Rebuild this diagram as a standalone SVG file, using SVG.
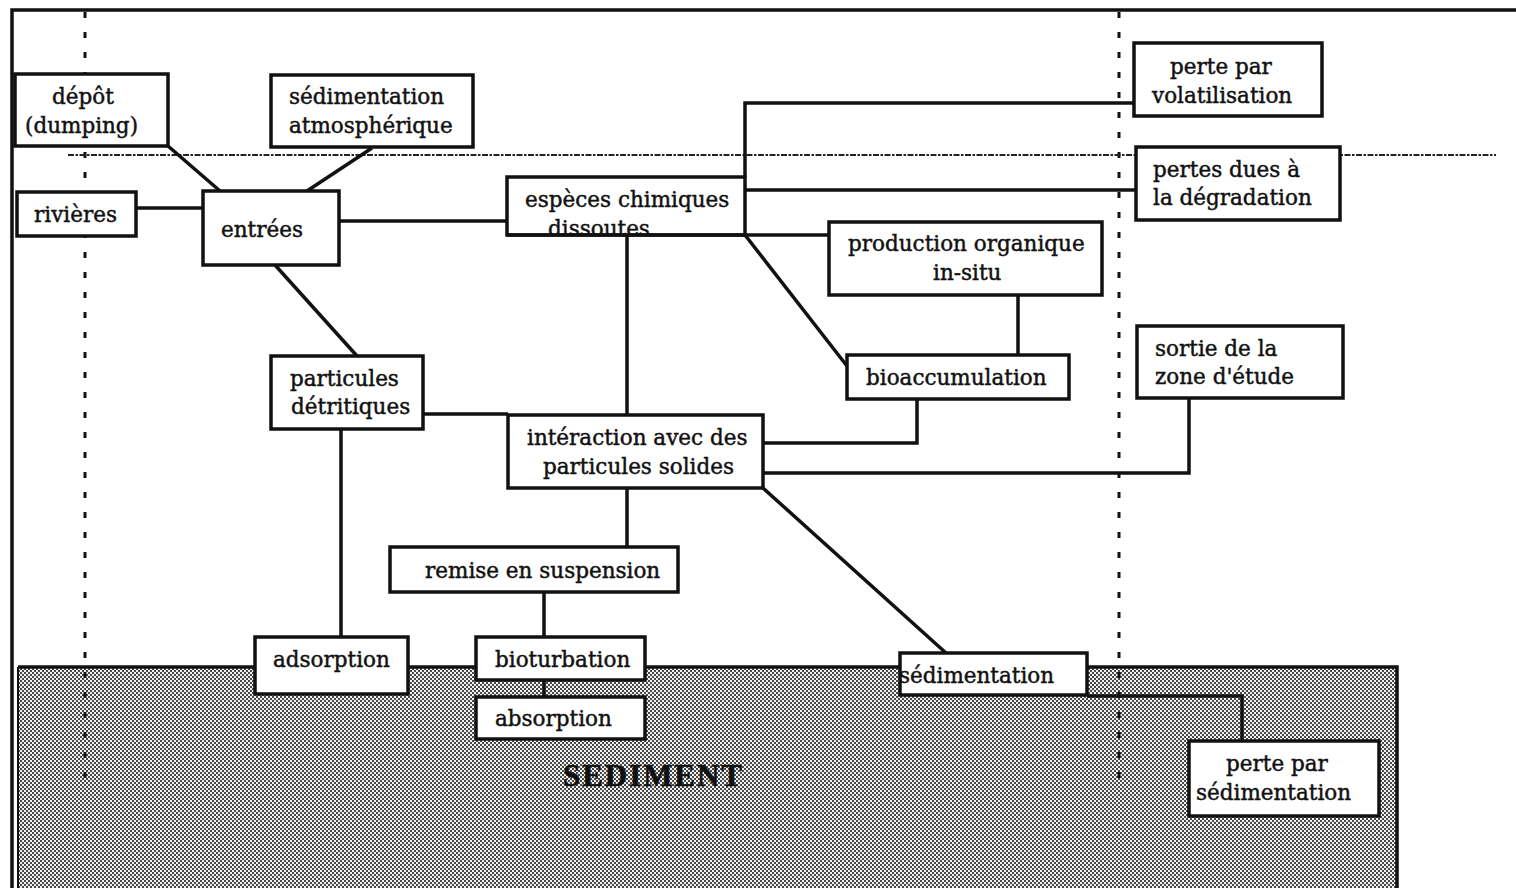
<svg xmlns="http://www.w3.org/2000/svg" width="1516" height="888" viewBox="0 0 1516 888">
<defs>
<style>
.box{fill:#fff;stroke:#111;stroke-width:3.5}
.t{font-family:"DejaVu Serif","Liberation Serif",serif;font-size:21.5px;fill:#111;stroke:#111;stroke-width:0.45}
.conn{fill:none;stroke:#111;stroke-width:3.5}
.dots{fill:none;stroke:#111;stroke-width:3;stroke-dasharray:6 14}
.surface{fill:none;stroke:#222;stroke-width:2;stroke-dasharray:6 1.5 2.5 1.5}
</style>
<pattern id="stipple" width="4" height="4" patternUnits="userSpaceOnUse">
<rect width="4" height="4" fill="#f2f2f2"/>
<rect x="0" y="0" width="2" height="2" fill="#484848"/>
<rect x="2" y="2" width="2" height="2" fill="#484848"/>
</pattern>
<clipPath id="clipEspeces"><rect x="507" y="177" width="238" height="57"/></clipPath>
</defs>
<rect width="1516" height="888" fill="#fff"/>
<g id="sediment-zone">
<rect x="18" y="667" width="1379" height="230" fill="url(#stipple)"/>
<path d="M18,888 V667" fill="none" stroke="#111" stroke-width="2"/>
<path d="M18,667 H1397 V888" fill="none" stroke="#111" stroke-width="3.5"/>
<text x="563" y="786" font-family="'Liberation Serif',serif" font-weight="bold" font-size="31" textLength="179" fill="#111" stroke="#111" stroke-width="0.6">SEDIMENT</text>
</g>
<g id="frame">
<path d="M12,888 V10 H1516" fill="none" stroke="#111" stroke-width="3.5"/>
</g>
<g id="boundaries">
<path class="dots" d="M85,12 V785"/>
<path class="dots" d="M1119,12 V785"/>
<path class="surface" d="M68,155 H1496"/>
</g>
<g id="connectors">
<path class="conn" d="M136,208 H203"/>
<path class="conn" d="M168,146 L220,191"/>
<path class="conn" d="M372,148 L307,191"/>
<path class="conn" d="M339,221 H507"/>
<path class="conn" d="M275,265 L357,356"/>
<path class="conn" d="M745,177 V103 H1134"/>
<path class="conn" d="M745,190 H1136"/>
<path class="conn" d="M745,235 H829"/>
<path class="conn" d="M745,235 L847,366"/>
<path class="conn" d="M627,235 V415"/>
<path class="conn" d="M1018,295 V355"/>
<path class="conn" d="M917,399 V443 H763"/>
<path class="conn" d="M1189,398 V473 H763"/>
<path class="conn" d="M423,414 H508"/>
<path class="conn" d="M341,429 V637"/>
<path class="conn" d="M627,488 V547"/>
<path class="conn" d="M544,592 V637"/>
<path class="conn" d="M544,680 V697"/>
<path class="conn" d="M763,488 L946,653"/>
<path class="conn" d="M1087,696 H1242 V741"/>
</g>
<g id="node-depot">
<rect class="box" x="15" y="74" width="153" height="72"/>
<text class="t" x="52" y="104">dépôt</text>
<text class="t" x="25" y="133">(dumping)</text>
</g>
<g id="node-sedimentation-atmospherique">
<rect class="box" x="271" y="75" width="202" height="72"/>
<text class="t" x="289" y="104">sédimentation</text>
<text class="t" x="289" y="133">atmosphérique</text>
</g>
<g id="node-rivieres">
<rect class="box" x="17" y="192" width="119" height="44"/>
<text class="t" x="34" y="222">rivières</text>
</g>
<g id="node-entrees">
<rect class="box" x="203" y="191" width="136" height="74"/>
<text class="t" x="221" y="237">entrées</text>
</g>
<g id="node-especes">
<rect class="box" x="507" y="177" width="238" height="58"/>
<text class="t" x="525" y="207">espèces chimiques</text>
<text class="t" x="548" y="236" clip-path="url(#clipEspeces)">dissoutes</text>
<path d="M507,235 H745" fill="none" stroke="#111" stroke-width="3.5"/>
</g>
<g id="node-volatilisation">
<rect class="box" x="1134" y="43" width="188" height="73"/>
<text class="t" x="1170" y="74">perte par</text>
<text class="t" x="1152" y="103">volatilisation</text>
</g>
<g id="node-degradation">
<rect class="box" x="1136" y="147" width="204" height="73"/>
<text class="t" x="1153" y="177">pertes dues à</text>
<text class="t" x="1153" y="205">la dégradation</text>
</g>
<g id="node-production">
<rect class="box" x="829" y="222" width="273" height="73"/>
<text class="t" x="848" y="251">production organique</text>
<text class="t" x="933" y="280">in-situ</text>
</g>
<g id="node-bioaccumulation">
<rect class="box" x="847" y="355" width="222" height="44"/>
<text class="t" x="866" y="385">bioaccumulation</text>
</g>
<g id="node-sortie">
<rect class="box" x="1137" y="326" width="206" height="72"/>
<text class="t" x="1155" y="356">sortie de la</text>
<text class="t" x="1155" y="384">zone d'étude</text>
</g>
<g id="node-particules">
<rect class="box" x="271" y="356" width="152" height="73"/>
<text class="t" x="290" y="386">particules</text>
<text class="t" x="291" y="414">détritiques</text>
</g>
<g id="node-interaction">
<rect class="box" x="508" y="415" width="255" height="73"/>
<text class="t" x="527" y="445">intéraction avec des</text>
<text class="t" x="543" y="474">particules solides</text>
</g>
<g id="node-remise">
<rect class="box" x="390" y="547" width="288" height="45"/>
<text class="t" x="425" y="578">remise en suspension</text>
</g>
<g id="node-adsorption">
<rect class="box" x="255" y="637" width="153" height="57"/>
<text class="t" x="273" y="667">adsorption</text>
</g>
<g id="node-bioturbation">
<rect class="box" x="476" y="637" width="169" height="43"/>
<text class="t" x="495" y="667">bioturbation</text>
</g>
<g id="node-absorption">
<rect class="box" x="476" y="697" width="169" height="42"/>
<text class="t" x="495" y="726">absorption</text>
</g>
<g id="node-sedimentation">
<rect class="box" x="900" y="653" width="187" height="42"/>
<text class="t" x="899" y="683">sédimentation</text>
</g>
<g id="node-perte-sedimentation">
<rect class="box" x="1189" y="741" width="190" height="75"/>
<text class="t" x="1226" y="771">perte par</text>
<text class="t" x="1196" y="800">sédimentation</text>
</g>
</svg>
